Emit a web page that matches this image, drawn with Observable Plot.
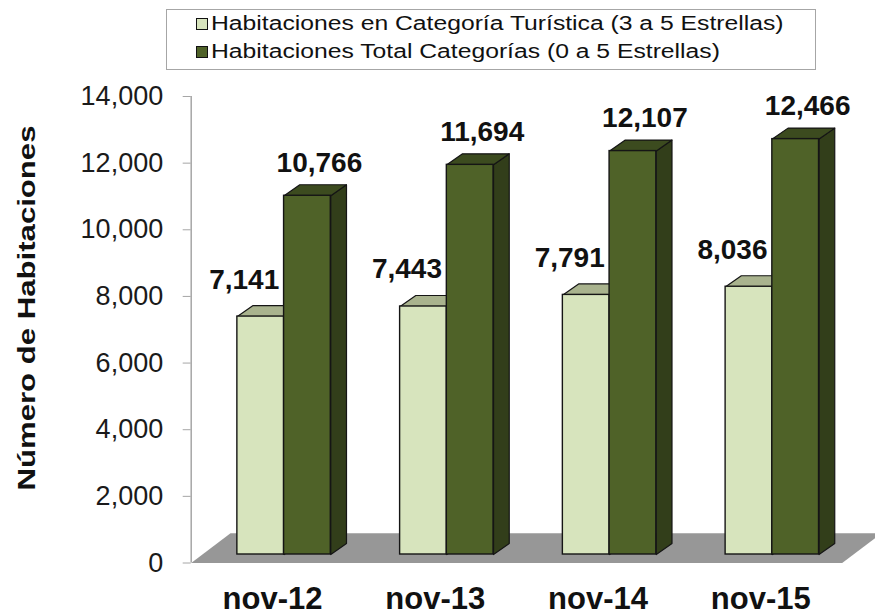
<!DOCTYPE html>
<html><head><meta charset="utf-8">
<script src="https://cdn.jsdelivr.net/npm/d3@7"></script>
<script src="https://cdn.jsdelivr.net/npm/@observablehq/plot@0.6"></script>
<style>
body{margin:0;background:#fff;font-family:"Liberation Sans",Arial,sans-serif;}
#wrap{position:relative;width:875px;height:613px;overflow:hidden;}
#legend{position:absolute;left:166px;top:8.5px;width:650px;height:61px;border:1.5px solid #a6a6a6;box-sizing:border-box;}
.row{position:absolute;left:196px;height:28px;display:flex;align-items:center;white-space:nowrap;}
.sw{width:10px;height:10px;border:1.5px solid #111;margin-right:3px;flex:none;}
.lt{font-size:20px;color:#111;display:inline-block;transform:scaleX(1.235);transform-origin:left center;}
g[aria-label="y-axis tick"]{stroke:#a6a6a6;}
g[aria-label="y-axis"] .tick line{stroke:#a6a6a6;}
</style>
</head><body>
<div id="wrap"><div id="chart"></div><div id="legend"></div></div>
<script>
const categories = ["nov-12", "nov-13", "nov-14", "nov-15"];
const turistica = [7141, 7443, 7791, 8036];
const total = [10766, 11694, 12107, 12466];
const yTicks = [0, 2000, 4000, 6000, 8000, 10000, 12000, 14000];
const seriesNames = ["Habitaciones en Categoría Turística (3 a 5 Estrellas)", "Habitaciones Total Categorías (0 a 5 Estrellas)"];
const yTitle = "Número de Habitaciones";

const colors = [
  {front: "#d7e4bd", top: "#a9b38e", side: "#aab58f"},
  {front: "#4f6228", top: "#3c4b1f", side: "#323e1a"}
];

// geometry (style) constants
const BAR_W = 0.287;
const FRONT_DX = 11.5, FRONT_DY = -8.5;     // px offset of bar front plane
const DEPTH_X = 0.0965, DEPTH_V = 330;      // bar depth in data units
const FLOOR_X = 0.2415, FLOOR_V = 891;      // floor depth in data units

const seriesValues = [turistica, total];
const bars = [];
seriesValues.forEach((vals, s) => vals.forEach((v, i) => {
  const x1 = i + 0.5 - BAR_W + s * BAR_W;
  bars.push({s, i, x1, x2: x1 + BAR_W, v, id: s + "-" + i});
}));

function topPoly(b) {
  return [[b.x1, b.v], [b.x2, b.v], [b.x2 + DEPTH_X, b.v + DEPTH_V], [b.x1 + DEPTH_X, b.v + DEPTH_V], [b.x1, b.v]]
    .map(([x, y]) => ({x, y, id: b.id}));
}
function sidePoly(b) {
  return [[b.x2, 0], [b.x2, b.v], [b.x2 + DEPTH_X, b.v + DEPTH_V], [b.x2 + DEPTH_X, DEPTH_V], [b.x2, 0]]
    .map(([x, y]) => ({x, y, id: b.id}));
}
const n = categories.length;
const floorPts = [[0, 0], [n, 0], [n + FLOOR_X, FLOOR_V], [FLOOR_X, FLOOR_V], [0, 0]].map(([x, y]) => ({x, y}));

const marks = [
  Plot.line(floorPts, {x: "x", y: "y", fill: "#979797", stroke: "none", curve: "linear"}),
  Plot.ruleX([0], {y1: () => 0, y2: () => 14000, stroke: "#a6a6a6", strokeWidth: 1.5})
];
const fmt = d3.format(",");
[0, 1].forEach(s => {
  const bs = bars.filter(b => b.s === s);
  const c = colors[s];
  marks.push(
    Plot.line(bs.flatMap(sidePoly), {x: "x", y: "y", z: "id", fill: c.side, stroke: "#151515", strokeWidth: 1.2, curve: "linear", dx: FRONT_DX, dy: FRONT_DY}),
    Plot.line(bs.flatMap(topPoly), {x: "x", y: "y", z: "id", fill: c.top, stroke: "#151515", strokeWidth: 1.2, curve: "linear", dx: FRONT_DX, dy: FRONT_DY}),
    Plot.rect(bs, {x1: "x1", x2: "x2", y1: () => 0, y2: "v", fill: c.front, stroke: "#151515", strokeWidth: 1.4, dx: FRONT_DX, dy: FRONT_DY})
  );
});
marks.push(
  Plot.text(bars.filter(b => b.s === 0), {x: d => (d.x1 + d.x2) / 2, y: "v", text: d => fmt(d.v), dx: -5, dy: -45.5, fontSize: 28, fontWeight: "bold", fill: "#111"}),
  Plot.text(bars.filter(b => b.s === 1), {x: d => (d.x1 + d.x2) / 2, y: "v", text: d => fmt(d.v), dx: 23.5, dy: -41.5, fontSize: 28, fontWeight: "bold", fill: "#111"}),
  Plot.text(categories, {x: (d, i) => i + 0.5, y: () => 0, text: d => d, dy: 36.5, fontSize: 31, fontWeight: "bold", fill: "#111"}),
  Plot.text([yTitle], {frameAnchor: "left", textAnchor: "middle", rotate: -90, text: d => d, dx: -163.4, dy: -21.75, fontSize: 24, fontWeight: "bold", fill: "#111"})
);

const chart = Plot.plot({
  width: 875,
  height: 613,
  marginLeft: 190.7,
  marginRight: 33.3,
  marginTop: 96,
  marginBottom: 50.5,
  style: {fontFamily: "'Liberation Sans', Arial, sans-serif", fontSize: "27px", color: "#1a1a1a", background: "transparent", overflow: "hidden"},
  x: {domain: [0, n], axis: null},
  y: {domain: [0, 14000], ticks: yTicks, tickFormat: fmt, tickSize: 8, tickPadding: 20, label: null},
  marks
});
document.getElementById("chart").appendChild(chart);
d3.select(chart).selectAll("text").filter(function() { return this.textContent === yTitle; })
  .attr("textLength", 365).attr("lengthAdjust", "spacingAndGlyphs");

const legend = document.getElementById("legend");
seriesNames.forEach((name, s) => {
  const row = document.createElement("div");
  row.className = "row";
  row.style.top = (s === 0 ? 10 : 38) - 8.5 - 1.5 + "px";
  row.style.left = (196 - 166 - 1.5) + "px";
  const sw = document.createElement("span");
  sw.className = "sw";
  sw.style.background = colors[s].front;
  const t = document.createElement("span");
  t.className = "lt";
  t.textContent = name;
  row.appendChild(sw); row.appendChild(t);
  legend.appendChild(row);
});
</script>
</body></html>
